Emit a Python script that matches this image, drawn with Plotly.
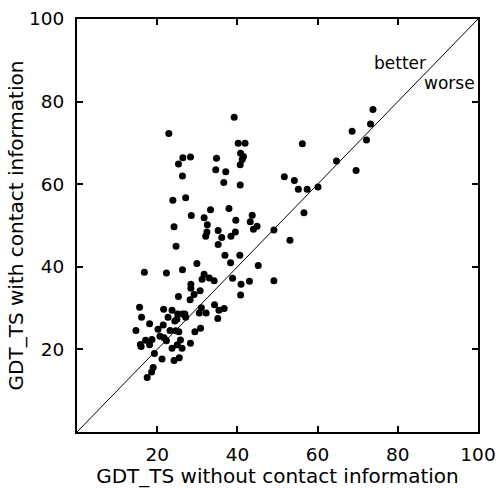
import plotly.graph_objects as go

# GDT_TS without contact information (x) vs with contact information (y)
gdt_without = [
    39.2, 22.9, 40.2, 41.9, 40.8, 41.5, 41.2, 40.7, 26.4, 28.3, 25.3, 34.8, 34.6, 37.1, 26.3, 36.6,
    40.7, 23.9, 27.1,
    33.3, 37.9, 28.5, 31.7, 39.6, 43.7, 24.2, 32.5, 43.2, 44.9, 44.0, 32.4, 35.2, 32.1, 36.1, 38.4,
    39.5, 24.7, 35.2, 36.9, 40.6, 38.3, 45.2, 29.9,
    16.8, 22.3, 26.3, 31.7, 31.2, 33.0, 34.2, 38.8, 40.9, 43.0, 28.4, 28.4, 30.7, 29.2, 40.8, 25.3,
    28.2, 15.6, 21.6, 23.7, 31.0, 34.3, 35.4, 36.7, 25.1, 26.3, 26.9, 30.5, 32.2, 22.7, 24.9, 24.4,
    27.1, 35.1, 16.1, 18.1, 21.5, 14.7, 20.2, 23.2, 24.6, 25.4, 29.4, 30.8, 20.7, 21.7, 22.3, 25.8,
    17.1, 18.7, 15.8, 16.0, 18.1, 25.0, 23.7, 26.2, 28.3, 19.3, 21.2, 24.2, 25.5, 19.0, 18.6, 17.5,
    73.8, 73.2, 68.6, 72.2, 56.2, 64.7, 69.6, 51.7, 54.2, 55.2, 57.4, 60.1, 56.6, 49.1, 53.1, 49.1,
]
gdt_with = [
    76.2, 72.3, 69.9, 69.9, 67.5, 66.7, 66.0, 64.7, 66.4, 66.6, 64.9, 66.3, 63.5, 63.0, 62.0, 60.4,
    59.8, 56.1, 56.7,
    53.8, 54.1, 52.4, 51.9, 51.3, 52.5, 49.7, 50.2, 50.9, 49.8, 49.1, 48.4, 48.8, 47.4, 47.1, 47.4,
    48.4, 45.0, 45.4, 42.8, 42.8, 41.0, 40.3, 40.8,
    38.7, 38.5, 39.3, 38.2, 37.0, 37.3, 36.6, 37.2, 35.8, 36.5, 35.8, 34.8, 34.2, 33.3, 33.2, 32.8,
    32.0, 30.2, 29.7, 29.5, 30.1, 30.8, 29.5, 29.9, 28.6, 28.6, 28.6, 28.8, 28.8, 27.8, 27.3, 26.9,
    27.8, 27.5, 27.8, 26.2, 25.9, 24.6, 24.9, 24.6, 24.5, 24.3, 24.3, 25.1, 23.2, 22.8, 22.1, 22.3,
    22.2, 22.4, 21.2, 20.7, 21.1, 21.1, 20.3, 20.3, 21.5, 19.0, 17.7, 17.3, 18.0, 15.6, 14.5, 13.2,
    78.1, 74.6, 72.8, 70.7, 69.8, 65.6, 63.3, 61.8, 60.9, 58.8, 58.8, 59.3, 53.1, 48.9, 46.4, 36.6,
]

diag_x = [0, 100]
diag_y = [0, 100]
tick_vals = [20, 40, 60, 80, 100]
tick_text = ["20", "40", "60", "80", "100"]

FONT = "DejaVu Sans"

fig = go.Figure()
fig.add_trace(go.Scatter(x=diag_x, y=diag_y, mode="lines",
                         line=dict(color="black", width=1), hoverinfo="skip"))
fig.add_trace(go.Scatter(x=gdt_without, y=gdt_with, mode="markers",
                         marker=dict(color="black", size=7, line=dict(width=0))))

fig.add_annotation(x=80.5, y=89.4, xref="x", yref="y", text="better", showarrow=False,
                   xanchor="center", yanchor="middle", font=dict(family=FONT, size=17, color="black"))
fig.add_annotation(x=92.8, y=84.6, xref="x", yref="y", text="worse", showarrow=False,
                   xanchor="center", yanchor="middle", font=dict(family=FONT, size=17, color="black"))

axis_common = dict(
    range=[0, 100], tickvals=tick_vals, ticktext=tick_text, automargin=False,
    showgrid=False, zeroline=False, showline=True, linecolor="black", linewidth=1.8,
    mirror="ticks", ticks="inside", ticklen=6, tickwidth=1.5, tickcolor="black",
    tickfont=dict(family=FONT, size=18.5, color="black"),
)

fig.update_layout(
    width=499, height=488,
    margin=dict(l=77, r=21, t=19, b=56),
    paper_bgcolor="white", plot_bgcolor="white",
    showlegend=False,
    font=dict(family=FONT, size=18, color="black"),
    xaxis=dict(**axis_common,
               title=dict(text="GDT_TS without contact information",
                          font=dict(family=FONT, size=20, color="black"), standoff=13),
               ticklabelstandoff=5),
    yaxis=dict(**axis_common,
               title=dict(text="GDT_TS with contact information",
                          font=dict(family=FONT, size=20, color="black"), standoff=0),
               ticklabelstandoff=7),
)

fig.write_html("out.html")
